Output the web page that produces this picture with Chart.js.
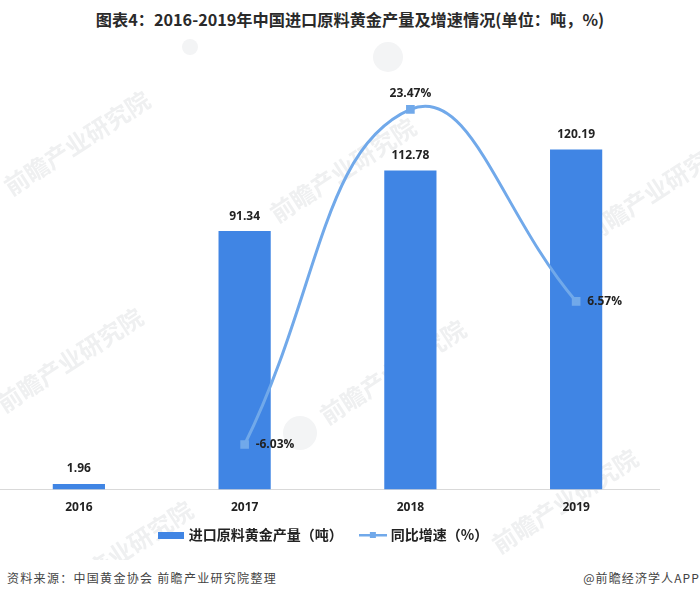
<!DOCTYPE html>
<html>
<head>
<meta charset="utf-8">
<style>
  html, body { margin: 0; padding: 0; background: #fff; overflow: hidden; }
  body { width: 700px; height: 599px; position: relative; font-family: "Noto Sans CJK SC", sans-serif; }
  #wrap { position: absolute; left: -11px; top: 0; width: 712px; height: 560px; }
  #title { position: absolute; left: 0; top: 7px; width: 700px; text-align: center; font-size: 16.2px; font-weight: 700; color: #2a2a2a; white-space: nowrap; }
  #source { position: absolute; left: 7px; top: 569px; font-size: 12px; color: #444; letter-spacing: 1.3px; }
  #brand { position: absolute; right: 0; top: 569px; font-size: 12px; color: #444; letter-spacing: 1.1px; }
</style>
</head>
<body>
<div id="title">图表4：2016-2019年中国进口原料黄金产量及增速情况(单位：吨，%)</div>
<div id="wrap"><canvas id="chart"></canvas></div>
<div id="source">资料来源：中国黄金协会 前瞻产业研究院整理</div>
<div id="brand">@前瞻经济学人APP</div>

<script src="https://cdn.jsdelivr.net/npm/chart.js@4/dist/chart.umd.min.js"></script>
<script>
// Data
const years = ['2016', '2017', '2018', '2019'];
const output = [1.96, 91.34, 112.78, 120.19];
const growth = [null, -6.03, 23.47, 6.57];
const growthLabels = [null, '-6.03%', '23.47%', '6.57%'];
const outputName = '进口原料黄金产量（吨）';
const growthName = '同比增速（%）';

const barColor = '#4085e4';
const lineColor = '#71a9ea';
const labelFont = "bold 12px 'Open Sans', sans-serif";

// Legend swatches
function barSwatch() {
  const c = document.createElement('canvas');
  c.width = 26; c.height = 7;
  const g = c.getContext('2d');
  g.fillStyle = barColor;
  g.fillRect(0, 0, 26, 7);
  return c;
}

function lineSwatch() {
  const c = document.createElement('canvas');
  c.width = 28; c.height = 8;
  const g = c.getContext('2d');
  g.fillStyle = lineColor;
  g.fillRect(0, 3, 28, 2.5);
  g.fillRect(11, 1, 6, 6);
  return c;
}

// Faint watermark, drawn behind everything. Page coordinates, canvas sits 11px left
const watermark = {
  id: 'watermark',
  beforeDraw(chart) {
    const ctx = chart.ctx;
    const texts = [[77, 143], [343, 170], [656, 190], [70, 360], [393, 372], [565, 501], [120, 553]];
    const logos = [[388, 57, 15], [190, 47, 8], [300, 433, 17], [567, 255, 16]];
    ctx.save();
    ctx.translate(11, 0);
    ctx.fillStyle = '#f3f4f5';
    logos.forEach(l => {
      ctx.beginPath();
      ctx.arc(l[0], l[1], l[2], 0, Math.PI * 2);
      ctx.fill();
    });
    ctx.fillStyle = '#eff0f1';
    ctx.font = "bold 24px 'Noto Sans CJK SC', sans-serif";
    ctx.textAlign = 'center';
    ctx.textBaseline = 'middle';
    texts.forEach(t => {
      ctx.save();
      ctx.translate(t[0], t[1]);
      ctx.rotate(-33 * Math.PI / 180);
      ctx.fillText('前瞻产业研究院', 0, 0);
      ctx.restore();
    });
    ctx.restore();
  }
};

// Value labels
const valueLabels = {
  id: 'valueLabels',
  afterDatasetsDraw(chart) {
    const ctx = chart.ctx;
    ctx.save();
    ctx.font = labelFont;
    ctx.fillStyle = '#222';
    ctx.textBaseline = 'middle';
    ctx.textAlign = 'center';
    chart.getDatasetMeta(0).data.forEach((bar, i) => {
      ctx.fillText(output[i].toFixed(2), bar.x, bar.y - 15);
    });
    chart.getDatasetMeta(1).data.forEach((pt, i) => {
      if (growth[i] === null) return;
      if (i === 2) {
        ctx.textAlign = 'center';
        ctx.fillText(growthLabels[i], pt.x, pt.y - 16);
      } else {
        ctx.textAlign = 'left';
        ctx.fillText(growthLabels[i], pt.x + 11, pt.y);
      }
    });
    ctx.restore();
  }
};

new Chart(document.getElementById('chart'), {
  type: 'bar',
  data: {
    labels: years,
    datasets: [
      {
        label: outputName,
        data: output,
        backgroundColor: barColor,
        barPercentage: 0.315,
        categoryPercentage: 1,
        yAxisID: 'y',
        order: 2
      },
      {
        type: 'line',
        label: growthName,
        data: growth,
        borderColor: lineColor,
        backgroundColor: lineColor,
        borderWidth: 3,
        tension: 0.45,
        pointStyle: 'rect',
        pointRadius: 4,
        yAxisID: 'y1',
        order: 1
      }
    ]
  },
  options: {
    responsive: true,
    maintainAspectRatio: false,
    animation: false,
    layout: { padding: { top: 58, right: 42, left: 0, bottom: 8 } },
    plugins: {
      title: { display: false },
      tooltip: { enabled: false },
      legend: {
        position: 'bottom',
        labels: {
          usePointStyle: true,
          pointStyleWidth: 22,
          padding: 9,
          color: '#222',
          font: { family: "'Noto Sans CJK SC', sans-serif", size: 14, weight: 'bold' },
          generateLabels() {
            return [
              { text: outputName + '\u3000 ', pointStyle: barSwatch(), datasetIndex: 0, fontColor: '#222' },
              { text: growthName, pointStyle: lineSwatch(), datasetIndex: 1, fontColor: '#222' }
            ];
          }
        }
      }
    },
    scales: {
      x: {
        grid: { display: false },
        border: { color: '#d9d9d9', width: 1 },
        afterFit(scale) { scale.height += 1; },
        ticks: {
          color: '#222',
          padding: 3,
          maxRotation: 0,
          font: { family: "'Open Sans', sans-serif", size: 12, weight: 'bold' }
        }
      },
      y: { display: false, min: 0, max: 152.5 },
      y1: { display: false, min: -10, max: 28 }
    }
  },
  plugins: [watermark, valueLabels]
});
</script>
</body>
</html>
